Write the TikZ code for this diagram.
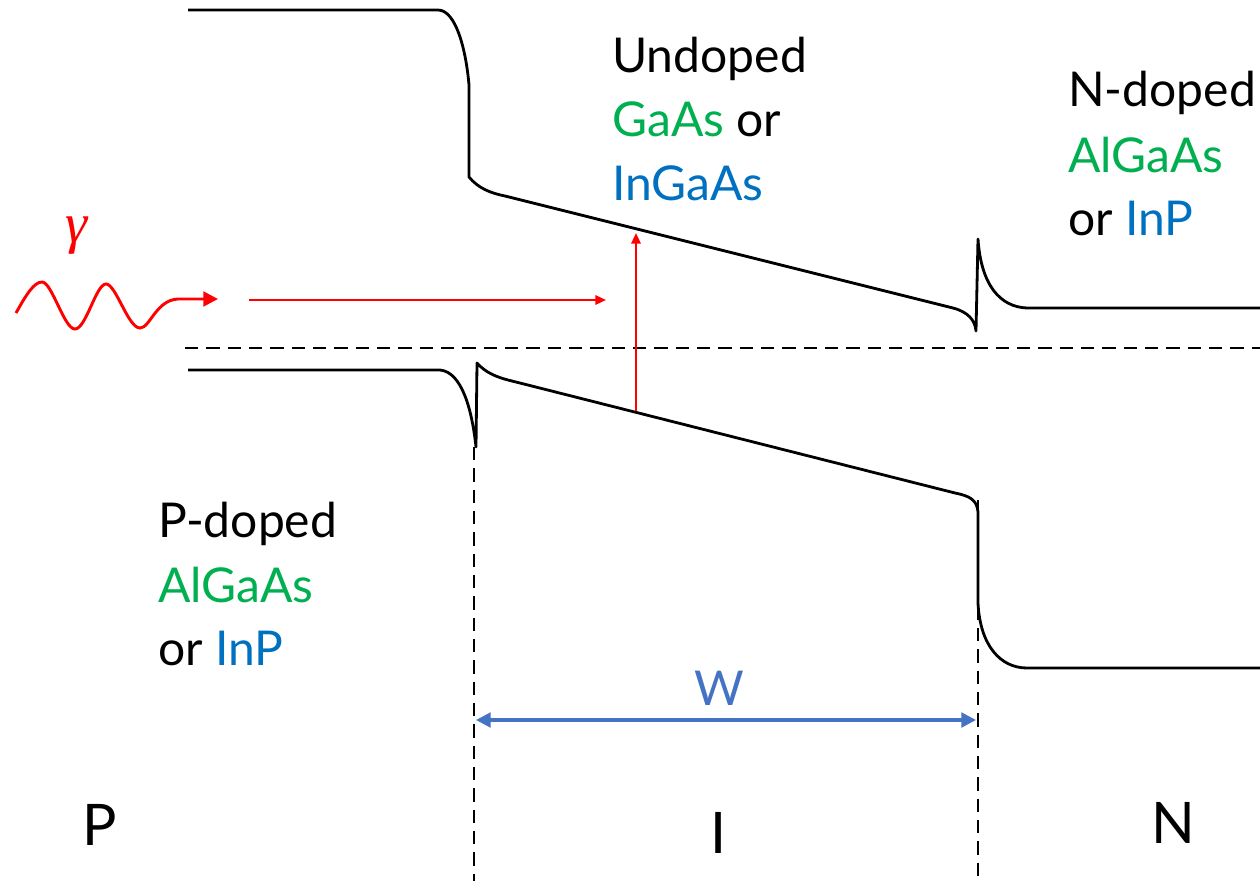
\documentclass[tikz,border=0pt]{standalone}
\usepackage{fontspec}
\setmainfont{Lato}
\newfontfamily\gfont{Liberation Serif}
\usetikzlibrary{arrows.meta}
\definecolor{grn}{RGB}{0,176,80}
\definecolor{blu}{RGB}{0,112,192}
\definecolor{wblue}{RGB}{68,114,196}
\begin{document}
\begin{tikzpicture}[x=0.75pt,y=-0.75pt,
  band/.style={line width=2.1pt, line join=round},
  dline/.style={line width=1.8pt, dash pattern=on 10pt off 6pt},
  lbl/.style={anchor=base west, inner sep=0pt, font=\fontsize{36}{40}\selectfont},
  big/.style={anchor=base, inner sep=0pt, font=\fontsize{43}{48}\selectfont},
  redarr/.style={red, line width=1.7pt, -{Triangle[length=8pt,width=7pt]}},
  wavearr/.style={red, line width=2.2pt, -{Triangle[length=11pt,width=11pt]}},
  warr/.style={wblue, line width=2.3pt, {Triangle[length=11pt,width=11pt]}-{Triangle[length=11pt,width=11pt]}}]
\useasboundingbox (0,0) rectangle (1260,881);

% conduction band
\draw[band] (188,10) -- (438,10)
  .. controls (456,10) and (466,50) .. (469,85)
  -- (469,177)
  .. controls (478,188) and (490,193) .. (505,196)
  -- (953,308)
  .. controls (968,312) and (975,320) .. (976,331)
  -- (978,239)
  .. controls (981,285) and (1000,307) .. (1027,308)
  -- (1260,308);

% valence band
\draw[band] (188,370) -- (440,370)
  .. controls (462,372) and (472,410) .. (476,447)
  -- (477,363)
  .. controls (485,372) and (495,377) .. (512,381)
  -- (955,493)
  .. controls (970,496) and (977,500) .. (978,512)
  -- (978,603)
  .. controls (980,645) and (1000,668) .. (1027,668)
  -- (1260,668);

% Fermi level and boundaries
\coordinate (fl) at (185,348);
\coordinate (fr) at (1260,348);
\draw[dline] (fl) -- (fr);
\coordinate (b1t) at (474,447);
\coordinate (b1b) at (474,881);
\coordinate (b2t) at (978,500);
\coordinate (b2b) at (978,881);
\draw[dline] (b1t) -- (b1b);
\draw[dline] (b2t) -- (b2b);

% photon
\node[red, anchor=base, inner sep=0pt, font=\gfont\itshape\fontsize{42}{44}\selectfont] (gam) at (77,242) {γ};
\coordinate (w0) at (16,313);
\coordinate (w1) at (218,299);
\draw[wavearr] (w0) .. controls (26,295) and (34,282) .. (42,282)
  .. controls (52,282) and (64,329) .. (75,329)
  .. controls (86,329) and (96,284) .. (106,284)
  .. controls (116,284) and (128,328) .. (140,328)
  .. controls (150,328) and (156,300) .. (178,299)
  -- (w1);
\coordinate (h0) at (249,300);
\coordinate (h1) at (606,300);
\draw[redarr] (h0) -- (h1);
\coordinate (v0) at (636,411);
\coordinate (v1) at (636,233);
\draw[redarr] (v0) -- (v1);

% W
\coordinate (wa) at (476,720);
\coordinate (wb) at (976,720);
\draw[warr] (wa) -- (wb);
\node[anchor=base, inner sep=0pt, wblue, font=\fontsize{36}{40}\selectfont] (W) at (719,705) {W};

% labels
\node[lbl] (u1) at (612,73) {Undoped};
\node[lbl] (u2) at (612,137) {\textcolor{grn}{GaAs} or};
\node[lbl] (u3) at (612,200) {\textcolor{blu}{InGaAs}};

\node[lbl] (n1) at (1068,107) {N-doped};
\node[lbl] (n2) at (1068,172) {\textcolor{grn}{AlGaAs}};
\node[lbl] (n3) at (1068,235) {or \textcolor{blu}{InP}};

\node[lbl] (p1) at (158,537) {P-doped};
\node[lbl] (p2) at (158,602) {\textcolor{grn}{AlGaAs}};
\node[lbl] (p3) at (158,665) {or \textcolor{blu}{InP}};

\node[big] (P) at (100,845) {P};
\node[big] (I) at (719,853) {I};
\node[big] (N) at (1173,843) {N};
\end{tikzpicture}
\end{document}
